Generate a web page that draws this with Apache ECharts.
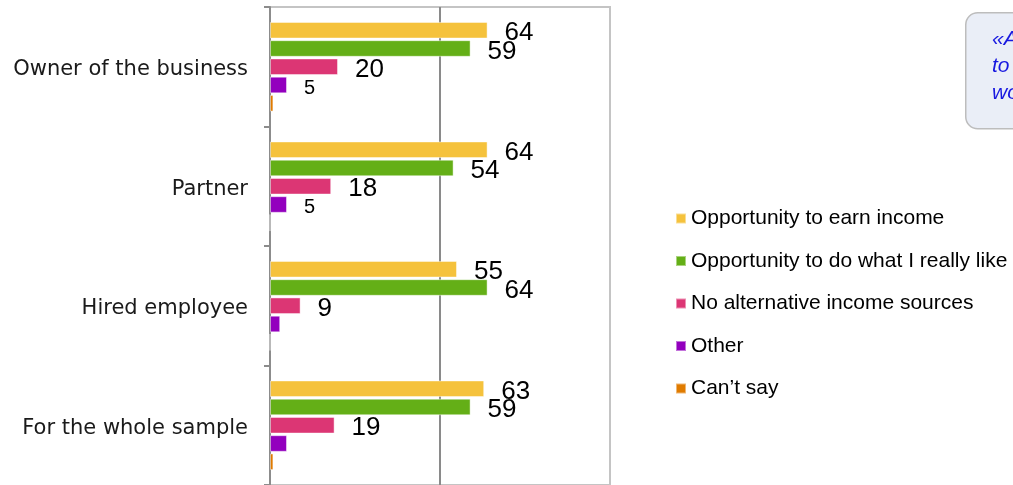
<!DOCTYPE html>
<html>
<head>
<meta charset="utf-8">
<script src="https://cdn.jsdelivr.net/npm/echarts@6/dist/echarts.min.js"></script>
<style>
html,body{margin:0;padding:0;background:#fff;}
#chart{width:1013px;height:485px;}
</style>
</head>
<body>
<div id="chart"></div>
<script>
const categories = ['Owner of the business', 'Partner', 'Hired employee', 'For the whole sample'];
const seriesNames = ['Opportunity to earn income', 'Opportunity to do what I really like', 'No alternative income sources', 'Other', 'Can\u2019t say'];
const earnIncome = [64, 64, 55, 63];
const doWhatILike = [59, 54, 64, 59];
const noAlternative = [20, 18, 9, 19];
const other = [5, 5, 3, 5];
const cantSay = [1, 0, 0, 1];
const earnIncomeShown = [true, true, true, true];
const doWhatILikeShown = [true, true, true, true];
const noAlternativeShown = [true, true, true, true];
const otherShown = [true, true, false, false];
const cantSayShown = [false, false, false, false];
const boxLines = ['\u00abA', 'to', 'wo'];

const colors = ['#F5C23C', '#64AF17', '#DC3674', '#9300BE', '#E07B00'];
const values = [earnIncome, doWhatILike, noAlternative, other, cantSay];
const shown = [earnIncomeShown, doWhatILikeShown, noAlternativeShown, otherShown, cantSayShown];
const labelSizes = [26, 26, 26, 20, 20];

const chart = echarts.init(document.getElementById('chart'), null, {renderer: 'canvas'});

const series = values.map((vals, si) => ({
  name: seriesNames[si],
  type: 'bar',
  barCategoryGap: '25%',
  barGap: '10%',
  itemStyle: {color: colors[si], borderColor: 'rgba(255,255,255,0.45)', borderWidth: 1},
  label: {
    position: 'right',
    distance: 17,
    offset: [0, 3],
    color: '#000',
    fontFamily: 'Liberation Sans',
    fontSize: labelSizes[si]
  },
  data: vals.map((v, i) => ({value: v, label: {show: shown[si][i]}}))
}));

chart.setOption({
  animation: false,
  color: colors,
  grid: {left: 270, right: 403, top: 7, height: 479, show: true, borderColor: '#C4C4C4', borderWidth: 2},
  xAxis: {
    type: 'value', min: 0, max: 100, interval: 50,
    axisLabel: {show: false}, axisTick: {show: false}, axisLine: {show: false},
    splitLine: {show: true, showMinLine: false, showMaxLine: false, lineStyle: {color: '#8A8A8A', width: 2}}
  },
  yAxis: {
    type: 'category', data: categories, inverse: true,
    axisLine: {lineStyle: {color: '#8C8C8C', width: 2}},
    axisTick: {show: true, length: 6, lineStyle: {color: '#8C8C8C', width: 2}},
    axisLabel: {
      margin: 22,
      formatter: v => '{c|' + v + '}',
      rich: {c: {fontFamily: 'DejaVu Sans', fontSize: 21, color: '#1A1A1A', padding: [6, 0, 0, 0]}}
    }
  },
  legend: {
    orient: 'vertical', left: 675, top: 208, padding: 0,
    icon: 'rect', itemWidth: 10, itemHeight: 10, itemGap: 21.5,
    textStyle: {fontFamily: 'Liberation Sans', fontSize: 21, color: '#000', lineHeight: 21},
    data: seriesNames
  },
  graphic: [
    {type: 'rect', left: 965, top: 12, shape: {width: 110, height: 116, r: 12},
     style: {fill: '#EAEEF7', stroke: '#BDBDBD', lineWidth: 1.5}, z: 10},
    ...boxLines.map((t, i) => ({
      type: 'text', left: 992, top: 29 + i * 27, z: 11,
      style: {text: t, fill: '#1818E0', fontFamily: 'Liberation Sans', fontSize: 21, fontStyle: 'italic'}
    }))
  ],
  series: series
});
</script>
</body>
</html>
